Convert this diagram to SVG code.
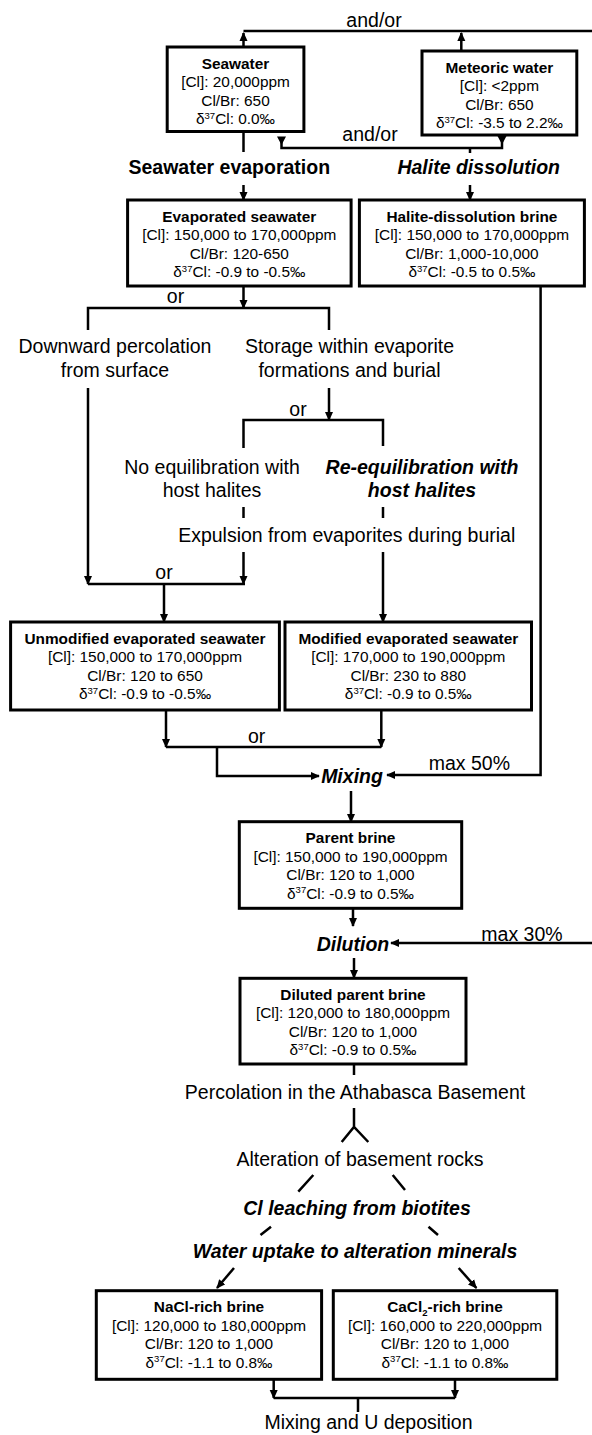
<svg xmlns="http://www.w3.org/2000/svg" width="592" height="1435" viewBox="0 0 592 1435">
<style>
.box{fill:#fff;stroke:#000;stroke-width:3}
.c{fill:none;stroke:#000;stroke-width:2.5}
.t{font-family:"Liberation Sans",Arial,sans-serif;font-size:15.4px;text-anchor:middle;fill:#000}
.b{font-weight:bold}
.l{font-family:"Liberation Sans",Arial,sans-serif;font-size:19.5px;text-anchor:middle;fill:#000}
.bi{font-weight:bold;font-style:italic}
.s{font-size:9.5px}
</style>
<defs>
<marker id="ah" viewBox="0 0 10 10" refX="9" refY="5" markerWidth="9" markerHeight="9" orient="auto" markerUnits="userSpaceOnUse">
<path d="M0,0.5 L10,5 L0,9.5 z" fill="#000"/>
</marker>
</defs>
<rect width="592" height="1435" fill="#fff"/>
<g id="connectors">
<path class="c" d="M243.5,31 H592"/>
<path class="c" d="M243.5,47 V33" marker-end="url(#ah)"/>
<path class="c" d="M461.3,51 V33" marker-end="url(#ah)"/>
<path class="c" d="M243.5,131.5 V152"/>
<path class="c" d="M281.5,140 V148 H502 V140"/>
<polygon points="277,136.5 286,136.5 281.5,145" fill="#000"/>
<polygon points="497.5,136 506.5,136 502,144.5" fill="#000"/>
<path class="c" d="M470,148 V153"/>
<path class="c" d="M243.5,185 V200" marker-end="url(#ah)"/>
<path class="c" d="M470,185 V200" marker-end="url(#ah)"/>
<path class="c" d="M243.5,286 V308" marker-end="url(#ah)"/>
<path class="c" d="M88,330 V308 H329 V330"/>
<path class="c" d="M88,388 V584" marker-end="url(#ah)"/>
<path class="c" d="M88,584 H245"/>
<path class="c" d="M243.5,552 V584" marker-end="url(#ah)"/>
<path class="c" d="M164,584 V622" marker-end="url(#ah)"/>
<path class="c" d="M329,388 V420" marker-end="url(#ah)"/>
<path class="c" d="M243.5,448 V420 H383 V446"/>
<path class="c" d="M243.5,507 V518"/>
<path class="c" d="M383,507 V518"/>
<path class="c" d="M383,552 V622" marker-end="url(#ah)"/>
<path class="c" d="M166,710 V747" marker-end="url(#ah)"/>
<path class="c" d="M381.3,710 V747" marker-end="url(#ah)"/>
<path class="c" d="M166,747 H381.3"/>
<path class="c" d="M217,747 V776 H319" marker-end="url(#ah)"/>
<path class="c" d="M540.6,286 V775 H387" marker-end="url(#ah)"/>
<path class="c" d="M351,791 V822" marker-end="url(#ah)"/>
<path class="c" d="M353,908 V926" marker-end="url(#ah)"/>
<path class="c" d="M592,943 H391" marker-end="url(#ah)"/>
<path class="c" d="M354,958 V978" marker-end="url(#ah)"/>
<path class="c" d="M354,1064 V1075"/>
<path class="c" d="M341.7,1142 L354,1127 L368.3,1142 M354,1127 V1108"/>
<path class="c" d="M313.3,1175 L298.3,1191.7 M271,1226.7 L260.5,1235"/>
<path class="c" d="M234,1268 L217,1288" marker-end="url(#ah)"/>
<path class="c" d="M392.7,1175 L405,1190 M428.5,1226.7 L438,1235"/>
<path class="c" d="M458.7,1268 L476.4,1288" marker-end="url(#ah)"/>
<path class="c" d="M273.7,1379.5 V1398" marker-end="url(#ah)"/>
<path class="c" d="M455,1379.5 V1398" marker-end="url(#ah)"/>
<path class="c" d="M273.7,1398 H455 M358,1398 V1412"/>
</g>
<g id="seawater">
<rect class="box" x="167.2" y="47" width="136.7" height="84.5"/>
<text class="t b" x="235.5" y="68.5">Seawater</text>
<text class="t" x="235.5" y="87">[Cl]: 20,000ppm</text>
<text class="t" x="235.5" y="105.5">Cl/Br: 650</text>
<text class="t" x="235.5" y="124">δ<tspan class="s" dy="-5.5">37</tspan><tspan dy="5.5">Cl: 0.0‰</tspan></text>
</g>
<g id="meteoric">
<rect class="box" x="422" y="51" width="154.8" height="84"/>
<text class="t b" x="499.4" y="72.5">Meteoric water</text>
<text class="t" x="499.4" y="91">[Cl]: &lt;2ppm</text>
<text class="t" x="499.4" y="109.5">Cl/Br: 650</text>
<text class="t" x="499.4" y="128">δ<tspan class="s" dy="-5.5">37</tspan><tspan dy="5.5">Cl: -3.5 to 2.2‰</tspan></text>
</g>
<g id="evaporated">
<rect class="box" x="127.6" y="200" width="223.5" height="86"/>
<text class="t b" x="239.3" y="221.5">Evaporated seawater</text>
<text class="t" x="239.3" y="240">[Cl]: 150,000 to 170,000ppm</text>
<text class="t" x="239.3" y="258.5">Cl/Br: 120-650</text>
<text class="t" x="239.3" y="277">δ<tspan class="s" dy="-5.5">37</tspan><tspan dy="5.5">Cl: -0.9 to -0.5‰</tspan></text>
</g>
<g id="halite">
<rect class="box" x="359.4" y="200" width="225" height="86"/>
<text class="t b" x="471.9" y="221.5">Halite-dissolution brine</text>
<text class="t" x="471.9" y="240">[Cl]: 150,000 to 170,000ppm</text>
<text class="t" x="471.9" y="258.5">Cl/Br: 1,000-10,000</text>
<text class="t" x="471.9" y="277">δ<tspan class="s" dy="-5.5">37</tspan><tspan dy="5.5">Cl: -0.5 to 0.5‰</tspan></text>
</g>
<g id="unmodified">
<rect class="box" x="10.6" y="622" width="268.8" height="88"/>
<text class="t b" x="145" y="643.5">Unmodified evaporated seawater</text>
<text class="t" x="145" y="662">[Cl]: 150,000 to 170,000ppm</text>
<text class="t" x="145" y="680.5">Cl/Br: 120 to 650</text>
<text class="t" x="145" y="699">δ<tspan class="s" dy="-5.5">37</tspan><tspan dy="5.5">Cl: -0.9 to -0.5‰</tspan></text>
</g>
<g id="modified">
<rect class="box" x="285" y="622" width="246.5" height="88"/>
<text class="t b" x="408.3" y="643.5">Modified evaporated seawater</text>
<text class="t" x="408.3" y="662">[Cl]: 170,000 to 190,000ppm</text>
<text class="t" x="408.3" y="680.5">Cl/Br: 230 to 880</text>
<text class="t" x="408.3" y="699">δ<tspan class="s" dy="-5.5">37</tspan><tspan dy="5.5">Cl: -0.9 to 0.5‰</tspan></text>
</g>
<g id="parent">
<rect class="box" x="239.3" y="821.7" width="222.4" height="86.6"/>
<text class="t b" x="350.5" y="843.2">Parent brine</text>
<text class="t" x="350.5" y="861.7">[Cl]: 150,000 to 190,000ppm</text>
<text class="t" x="350.5" y="880.2">Cl/Br: 120 to 1,000</text>
<text class="t" x="350.5" y="898.7">δ<tspan class="s" dy="-5.5">37</tspan><tspan dy="5.5">Cl: -0.9 to 0.5‰</tspan></text>
</g>
<g id="diluted">
<rect class="box" x="240" y="978.3" width="226" height="85.7"/>
<text class="t b" x="353" y="999.8">Diluted parent brine</text>
<text class="t" x="353" y="1018.3">[Cl]: 120,000 to 180,000ppm</text>
<text class="t" x="353" y="1036.8">Cl/Br: 120 to 1,000</text>
<text class="t" x="353" y="1055.3">δ<tspan class="s" dy="-5.5">37</tspan><tspan dy="5.5">Cl: -0.9 to 0.5‰</tspan></text>
</g>
<g id="nacl">
<rect class="box" x="96.3" y="1290.7" width="225.3" height="88.6"/>
<text class="t b" x="209" y="1312.2">NaCl-rich brine</text>
<text class="t" x="209" y="1330.7">[Cl]: 120,000 to 180,000ppm</text>
<text class="t" x="209" y="1349.2">Cl/Br: 120 to 1,000</text>
<text class="t" x="209" y="1367.7">δ<tspan class="s" dy="-5.5">37</tspan><tspan dy="5.5">Cl: -1.1 to 0.8‰</tspan></text>
</g>
<g id="cacl2">
<rect class="box" x="333.3" y="1290.7" width="223.5" height="88.6"/>
<text class="t b" x="445" y="1312.2">CaCl<tspan class="s" dy="4">2</tspan><tspan dy="-4">-rich brine</tspan></text>
<text class="t" x="445" y="1330.7">[Cl]: 160,000 to 220,000ppm</text>
<text class="t" x="445" y="1349.2">Cl/Br: 120 to 1,000</text>
<text class="t" x="445" y="1367.7">δ<tspan class="s" dy="-5.5">37</tspan><tspan dy="5.5">Cl: -1.1 to 0.8‰</tspan></text>
</g>
<g id="labels">
<text class="l" x="374" y="26.5">and/or</text>
<text class="l" x="370" y="140.5">and/or</text>
<text class="l b" x="229.3" y="173.5">Seawater evaporation</text>
<text class="l bi" x="478.7" y="173.5">Halite dissolution</text>
<text class="l" x="175.5" y="303">or</text>
<text class="l" x="115" y="353">Downward percolation</text>
<text class="l" x="115" y="376.5">from surface</text>
<text class="l" x="349.5" y="353">Storage within evaporite</text>
<text class="l" x="349.5" y="376.5">formations and burial</text>
<text class="l" x="298" y="416">or</text>
<text class="l" x="212" y="473.5">No equilibration with</text>
<text class="l" x="212" y="496.5">host halites</text>
<text class="l bi" x="422" y="473.5">Re-equilibration with</text>
<text class="l bi" x="422" y="496.5">host halites</text>
<text class="l" x="346.7" y="541.5">Expulsion from evaporites during burial</text>
<text class="l" x="164" y="579">or</text>
<text class="l" x="256.7" y="743">or</text>
<text class="l bi" x="352" y="783">Mixing</text>
<text class="l" x="469.4" y="769.5">max 50%</text>
<text class="l bi" x="353" y="951">Dilution</text>
<text class="l" x="522" y="941">max 30%</text>
<text class="l" x="355" y="1098.5">Percolation in the Athabasca Basement</text>
<text class="l" x="360" y="1165.5">Alteration of basement rocks</text>
<text class="l bi" x="357" y="1215">Cl leaching from biotites</text>
<text class="l bi" x="355" y="1258">Water uptake to alteration minerals</text>
<text class="l" x="368.5" y="1429">Mixing and U deposition</text>
</g>
</svg>
